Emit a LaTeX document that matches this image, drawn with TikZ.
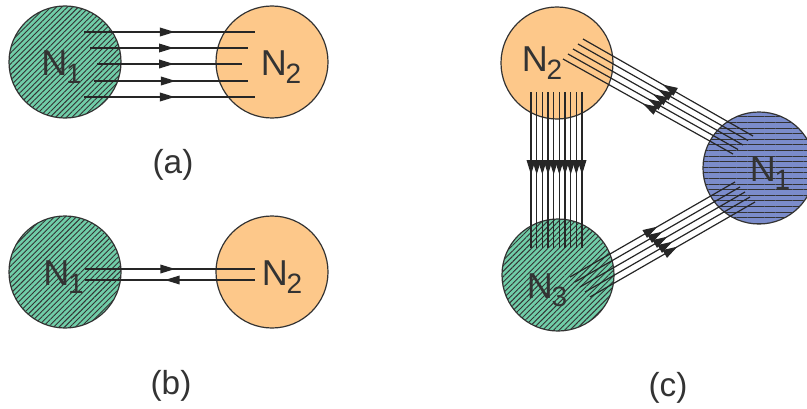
\documentclass[tikz,border=0pt]{standalone}
\usepackage{fontspec}
\setmainfont{Liberation Sans}
\usepackage{tikz}
\usetikzlibrary{arrows.meta}
\usetikzlibrary{calc}
\usetikzlibrary{patterns.meta}
\usetikzlibrary{decorations.markings}

\definecolor{nodegreen}{RGB}{112,205,168}
\definecolor{nodeorange}{RGB}{253,200,138}
\definecolor{nodeblue}{RGB}{123,140,203}
\definecolor{inkgray}{RGB}{51,51,51}

\newcommand{\nsub}[1]{N\kern-1pt\raisebox{-6pt}{\fontsize{21}{21}\selectfont #1}}

\tikzset{
  host/.style={circle,draw=inkgray,line width=0.9pt,minimum size=84pt,inner sep=0pt},
  greenhost/.style={host,fill=nodegreen,postaction={pattern color=inkgray,pattern={Lines[angle=45,distance=2.9pt,line width=0.7pt]}}},
  orangehost/.style={host,fill=nodeorange},
  bluehost/.style={host,fill=nodeblue,postaction={pattern color=inkgray,pattern={Lines[angle=0,distance=4.2pt,line width=0.7pt]}}},
  nlabel/.style={text=inkgray,font=\fontsize{27}{27}\selectfont,inner sep=0pt},
  caption/.style={text=inkgray,font=\fontsize{25}{25}\selectfont,inner sep=0pt},
  flow/.style={line width=0.9pt,draw=black!85,decoration={markings,mark=at position 0.53 with {\arrow{>}}},postaction={decorate}}
}

\begin{document}
\begin{tikzpicture}[line join=round,>={Triangle[length=11pt,width=6.5pt]},x=0.75pt,y=0.75pt]
        \useasboundingbox (0,0) rectangle (807,408);
        \clip (0,0) rectangle (807,408);
        % (a)
        \node[greenhost] (a1) at (65,346) {};
        \node[orangehost] (a2) at (272,346) {};
        \foreach \xs/\xe/\dy in {19/-17/30,25/-24/14,32/-30/-2,29/-24/-19,19/-17/-35}
          \draw[flow] ($(a1)+(\xs,\dy)$) -- ($(a2)+(\xe,\dy)$);
        \node[nlabel] (a1t) at (61.5,340.5) {\nsub{1}};
        \node[nlabel] (a2t) at (281,341) {\nsub{2}};
        \node[caption] (capa) at (173,243) {(a)};
        % (b)
        \node[greenhost] (b1) at (65,136) {};
        \node[orangehost] (b2) at (272,136) {};
        \draw[flow] ($(b1)+(20,3)$) -- ($(b2)+(-17,3)$);
        \draw[flow] ($(b2)+(-17,-8)$) -- ($(b1)+(20,-8)$);
        \node[nlabel] (b1t) at (63.5,130.5) {\nsub{1}};
        \node[nlabel] (b2t) at (282,130.5) {\nsub{2}};
        \node[caption] (capb) at (171,22) {(b)};
        % (c)
        \node[orangehost] (c2) at (557,345) {};
        \node[bluehost] (c1) at (759,240) {};
        \node[greenhost] (c3) at (558,133) {};
        \foreach \i in {0,...,9}
          \draw[flow] ($(c2)+(-26+5.67*\i,-29)$) -- ($(c3)+(-27+5.67*\i,27)$);
        \foreach \i in {0,...,4}
          \draw[flow] ($(c1)+(-6-5*\i,32-4.5*\i)$) -- ($(c2)+(26-5*\i,24-5*\i)$);
        \foreach \i in {0,...,4}
          \draw[flow] ($(c3)+(12+5*\i,-2-5*\i)$) -- ($(c1)+(-24+5*\i,-14-5*\i)$);
        \node[nlabel] (c2t) at (542,345) {\nsub{2}};
        \node[nlabel] (c1t) at (770,235) {\nsub{1}};
        \node[nlabel] (c3t) at (547,118) {\nsub{3}};
        \node[caption] (capc) at (668,20) {(c)};
      \end{tikzpicture}
\end{document}
